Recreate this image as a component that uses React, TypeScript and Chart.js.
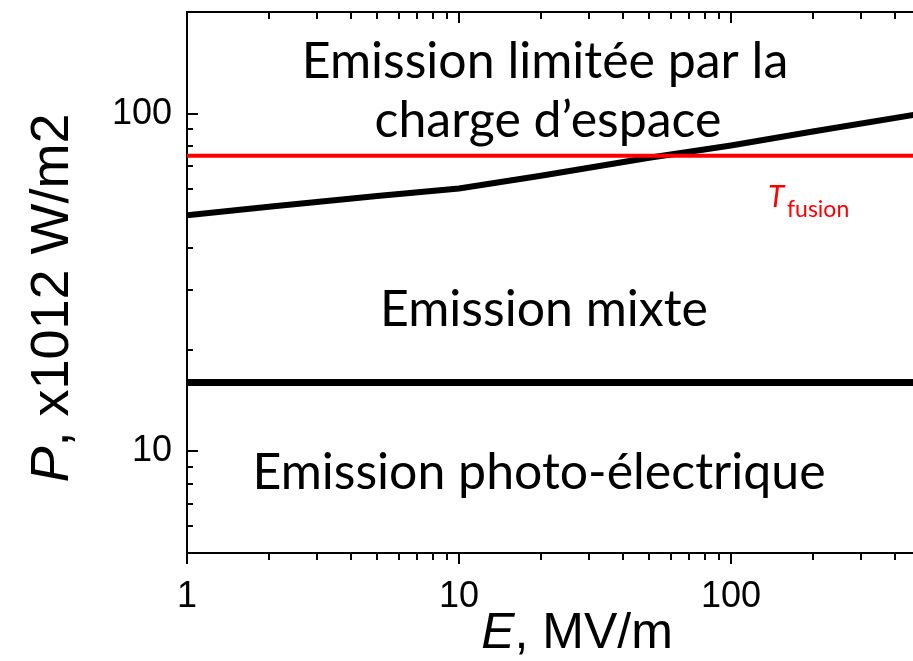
import React, { useEffect, useRef } from "react";
import { Chart, registerables } from "chart.js";

Chart.register(...registerables);

// ---- data ----
const spaceChargeE = [1, 2, 5, 10, 20, 50, 100, 200, 500];
const spaceChargeP = [50, 53, 57, 60, 65.5, 74, 80.5, 88.5, 100];
const photoLimitE = [1, 500];
const photoLimitP = [16, 16];
const fusionE = [1, 500];
const fusionP = [75, 75];

const xMin = 1;
const xMax = 467;
const yMin = 5;
const yMax = 200;
const xTickLabels = [1, 10, 100];
const yTickLabels = [10, 100];

const regionTop1 = "Emission limitée par la";
const regionTop2 = "charge d’espace";
const regionMid = "Emission mixte";
const regionLow = "Emission photo-électrique";
const fusionMain = "T";
const fusionSub = "fusion";
const xTitleVar = "E";
const xTitleRest = ", MV/m";
const yTitleVar = "P";
const yTitleRest = ", x1012 W/m2";

const toPoints = (xs: number[], ys: number[]) => xs.map((x, i) => ({ x, y: ys[i] }));

const isIntMantissa = (v: number) => {
  const m = v / Math.pow(10, Math.floor(Math.log10(v) + 1e-9));
  return Math.abs(m - Math.round(m)) < 1e-6;
};
const isMajor = (v: number) => Math.abs(Math.log10(v) - Math.round(Math.log10(v))) < 1e-9;

const zeroPad = (s: any) => {
  s.paddingTop = 0;
  s.paddingBottom = 0;
  s.paddingLeft = 0;
  s.paddingRight = 0;
};

const tickPlugin = {
  id: "inwardTicks",
  afterDraw(chart: any) {
    const { ctx, chartArea } = chart;
    const xs = chart.scales.x;
    const ys = chart.scales.y;
    ctx.save();
    ctx.strokeStyle = "#000";
    ctx.lineWidth = 2;
    ctx.beginPath();
    for (const t of xs.ticks) {
      const v = t.value;
      if (!isIntMantissa(v)) continue;
      const px = Math.round(xs.getPixelForValue(v));
      const len = isMajor(v) ? 11 : 7;
      ctx.moveTo(px, chartArea.bottom);
      ctx.lineTo(px, chartArea.bottom + len);
      ctx.moveTo(px, chartArea.top);
      ctx.lineTo(px, chartArea.top + len);
    }
    for (const t of ys.ticks) {
      const v = t.value;
      if (!isIntMantissa(v)) continue;
      const py = Math.round(ys.getPixelForValue(v));
      const len = isMajor(v) ? 11 : 6;
      ctx.moveTo(chartArea.left, py);
      ctx.lineTo(chartArea.left + len, py);
    }
    ctx.stroke();
    ctx.restore();
  },
};

const textPlugin = {
  id: "regionTexts",
  afterDraw(chart: any) {
    const { ctx } = chart;
    ctx.save();
    ctx.fillStyle = "#000";
    ctx.textBaseline = "alphabetic";
    ctx.textAlign = "center";
    ctx.font = "50px Lato";
    ctx.fillText(regionTop1, 545, 78);
    ctx.fillText(regionTop2, 548, 137);
    ctx.fillText(regionMid, 544, 326);
    ctx.fillText(regionLow, 539, 489);

    // T fusion
    ctx.fillStyle = "#ff0000";
    ctx.textAlign = "left";
    ctx.font = "italic 30px Lato";
    ctx.fillText(fusionMain, 768, 207);
    ctx.font = "23px Lato";
    ctx.fillText(fusionSub, 787, 217);

    // X title
    ctx.fillStyle = "#000";
    const xf = 50;
    ctx.font = `italic ${xf}px "Liberation Sans"`;
    const wE = ctx.measureText(xTitleVar).width;
    ctx.font = `${xf}px "Liberation Sans"`;
    const wR = ctx.measureText(xTitleRest).width;
    const xc = 577;
    const x0 = xc - (wE + wR) / 2;
    ctx.font = `italic ${xf}px "Liberation Sans"`;
    ctx.fillText(xTitleVar, x0, 648);
    ctx.font = `${xf}px "Liberation Sans"`;
    ctx.fillText(xTitleRest, x0 + wE, 648);

    // Y title (rotated)
    const yf = 54;
    ctx.translate(68, 298);
    ctx.rotate(-Math.PI / 2);
    ctx.font = `italic ${yf}px "Liberation Sans"`;
    const wP = ctx.measureText(yTitleVar).width;
    ctx.font = `${yf}px "Liberation Sans"`;
    const wY = ctx.measureText(yTitleRest).width;
    const y0 = -(wP + wY) / 2;
    ctx.font = `italic ${yf}px "Liberation Sans"`;
    ctx.fillText(yTitleVar, y0, 0);
    ctx.font = `${yf}px "Liberation Sans"`;
    ctx.fillText(yTitleRest, y0 + wP, 0);
    ctx.restore();
  },
};

export default function App() {
  const ref = useRef<HTMLCanvasElement | null>(null);
  useEffect(() => {
    document.body.style.margin = "0";
    const canvas = ref.current!;
    const chart = new Chart(canvas, {
      type: "line",
      data: {
        datasets: [
          {
            data: toPoints(fusionE, fusionP),
            borderColor: "#ff0000",
            borderWidth: 4,
            pointRadius: 0,
            tension: 0,
          },
          {
            data: toPoints(spaceChargeE, spaceChargeP),
            borderColor: "#000",
            borderWidth: 6,
            pointRadius: 0,
            tension: 0,
          },
          {
            data: toPoints(photoLimitE, photoLimitP),
            borderColor: "#000",
            borderWidth: 7,
            pointRadius: 0,
            tension: 0,
          },
        ],
      },
      options: {
        animation: false,
        responsive: false,
        devicePixelRatio: 1,
        layout: { padding: 0 },
        plugins: {
          legend: { display: false },
          tooltip: { enabled: false },
        },
        scales: {
          x: {
            type: "logarithmic",
            position: "bottom",
            min: xMin,
            max: xMax,
            afterFit: (s: any) => {
              s.height = 108;
              zeroPad(s);
            },
            grid: { display: false, drawTicks: false },
            border: { display: true, width: 2, color: "#000" },
            ticks: {
              autoSkip: false,
              maxRotation: 0,
              padding: 22,
              color: "#000",
              font: { family: "Liberation Sans", size: 36 },
              callback: (v: any) => (xTickLabels.includes(Number(v)) ? String(v) : ""),
            },
          },
          xTop: {
            type: "logarithmic",
            position: "top",
            min: xMin,
            max: xMax,
            afterFit: (s: any) => {
              s.height = 12;
              zeroPad(s);
            },
            grid: { display: false, drawTicks: false },
            border: { display: true, width: 2, color: "#000" },
            ticks: { display: false },
          },
          y: {
            type: "logarithmic",
            position: "left",
            min: yMin,
            max: yMax,
            afterFit: (s: any) => {
              s.width = 187;
              zeroPad(s);
            },
            grid: { display: false, drawTicks: false },
            border: { display: true, width: 2, color: "#000" },
            ticks: {
              autoSkip: false,
              padding: 15,
              color: "#000",
              font: { family: "Liberation Sans", size: 36 },
              callback: (v: any) => (yTickLabels.includes(Number(v)) ? String(v) : ""),
            },
          },
        },
      } as any,
      plugins: [tickPlugin, textPlugin],
    });
    return () => chart.destroy();
  }, []);
  return (
    <div style={{ width: 913, height: 661, background: "#fff" }}>
      <canvas ref={ref} width={913} height={661} style={{ display: "block" }} />
    </div>
  );
}
